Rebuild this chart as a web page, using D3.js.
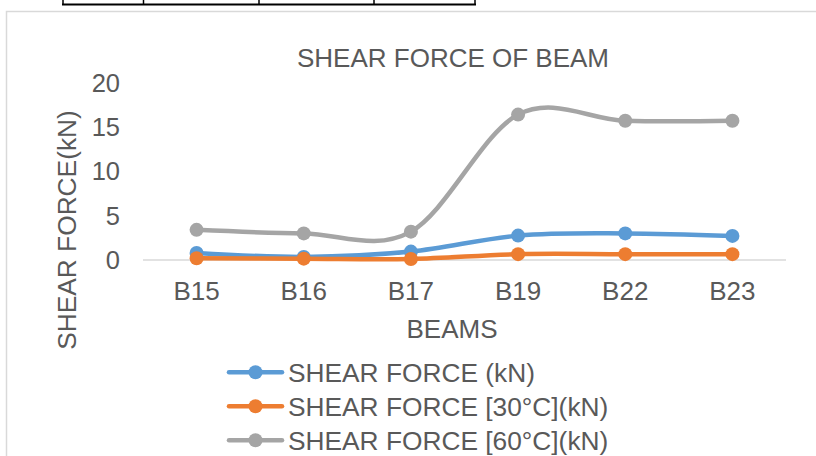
<!DOCTYPE html>
<html>
<head>
<meta charset="utf-8">
<script src="https://cdn.jsdelivr.net/npm/d3@7"></script>
<style>
  html, body { margin: 0; padding: 0; background: #fff; }
  svg { display: block; }
  text { font-family: "Liberation Sans", Arial, sans-serif; fill: #595959; }
</style>
</head>
<body>
<svg id="chart" width="816" height="456"></svg>
<script>
// Beam labels along the x axis
const beams = ["B15", "B16", "B17", "B19", "B22", "B23"];

// Shear force per beam (kN)
const shearAmbient = [0.8, 0.35, 0.95, 2.75, 3.0, 2.72];
const shear30 = [0.2, 0.15, 0.12, 0.66, 0.66, 0.66];
const shear60 = [3.4, 3.0, 3.2, 16.4, 15.7, 15.7];

const yTicks = [0, 5, 10, 15, 20];

const seriesNames = [
  "SHEAR FORCE (kN)",
  "SHEAR FORCE [30°C](kN)",
  "SHEAR FORCE [60°C](kN)"
];
const seriesColors = ["#5B9BD5", "#ED7D31", "#A5A5A5"];

const series = [shearAmbient, shear30, shear60].map((vals, i) => ({
  name: seriesNames[i],
  color: seriesColors[i],
  values: vals
}));

const svg = d3.select("#chart");

// Bottom edge of a table sitting above the chart
const tableCols = [63, 143.5, 259, 374, 475];
svg.append("line")
  .attr("x1", 62).attr("x2", 476).attr("y1", 4.5).attr("y2", 4.5)
  .attr("stroke", "#000").attr("stroke-width", 2);
svg.selectAll(".tcol").data(tableCols).join("line")
  .attr("x1", d => d).attr("x2", d => d).attr("y1", 0).attr("y2", 5)
  .attr("stroke", "#000").attr("stroke-width", 1.5);

// Chart frame
svg.append("rect")
  .attr("x", 6.5).attr("y", 11.5).attr("width", 860).attr("height", 500)
  .attr("fill", "#fff").attr("stroke", "#d9d9d9").attr("stroke-width", 1.5);

// Scales
const x = d3.scaleBand().domain(beams).range([143, 786]);
const xc = d => x(d) + x.bandwidth() / 2;
const y = d3.scaleLinear().domain([0, 20]).range([260, 82.7]);

// Title
svg.append("text")
  .attr("x", 453).attr("y", 66.5)
  .attr("text-anchor", "middle")
  .style("font-size", "26px")
  .text("SHEAR FORCE OF BEAM");

// Y axis tick labels
svg.selectAll(".ytick").data(yTicks).join("text")
  .attr("class", "ytick")
  .attr("x", 120).attr("y", d => y(d))
  .attr("dy", "0.35em")
  .attr("text-anchor", "end")
  .style("font-size", "25.5px")
  .text(d => d);

// Horizontal axis line
svg.append("line")
  .attr("x1", x.range()[0]).attr("x2", x.range()[1])
  .attr("y1", y(0)).attr("y2", y(0))
  .attr("stroke", "#d9d9d9").attr("stroke-width", 1.5);

// X axis category labels
svg.selectAll(".xtick").data(beams).join("text")
  .attr("class", "xtick")
  .attr("x", d => xc(d)).attr("y", 300)
  .attr("text-anchor", "middle")
  .style("font-size", "26px")
  .text(d => d);

// Axis titles
svg.append("text")
  .attr("x", 452).attr("y", 337.5)
  .attr("text-anchor", "middle")
  .style("font-size", "26px")
  .text("BEAMS");

svg.append("text")
  .attr("transform", "translate(75.5,230) rotate(-90)")
  .attr("text-anchor", "middle")
  .style("font-size", "26.3px")
  .text("SHEAR FORCE(kN)");

// Smoothed series lines with markers
const line = d3.line()
  .x((d, i) => xc(beams[i]))
  .y(d => y(d))
  .curve(d3.curveCatmullRom.alpha(0));

const g = svg.append("g");
series.forEach(s => {
  g.append("path")
    .attr("d", line(s.values))
    .attr("fill", "none")
    .attr("stroke", s.color)
    .attr("stroke-width", 4.5)
    .attr("stroke-linecap", "round")
    .attr("stroke-linejoin", "round");
  g.selectAll(null).data(s.values).join("circle")
    .attr("cx", (d, i) => xc(beams[i]))
    .attr("cy", d => y(d))
    .attr("r", 7)
    .attr("fill", s.color);
});

// Legend
const legend = svg.append("g");
series.forEach((s, i) => {
  const ly = 372.3 + i * 34;
  legend.append("line")
    .attr("x1", 229).attr("x2", 282)
    .attr("y1", ly).attr("y2", ly)
    .attr("stroke", s.color).attr("stroke-width", 4.5)
    .attr("stroke-linecap", "round");
  legend.append("circle")
    .attr("cx", 255.5).attr("cy", ly).attr("r", 7)
    .attr("fill", s.color);
  legend.append("text")
    .attr("x", 288).attr("y", ly + 9.5)
    .style("font-size", "26.3px")
    .text(s.name);
});
</script>
</body>
</html>
